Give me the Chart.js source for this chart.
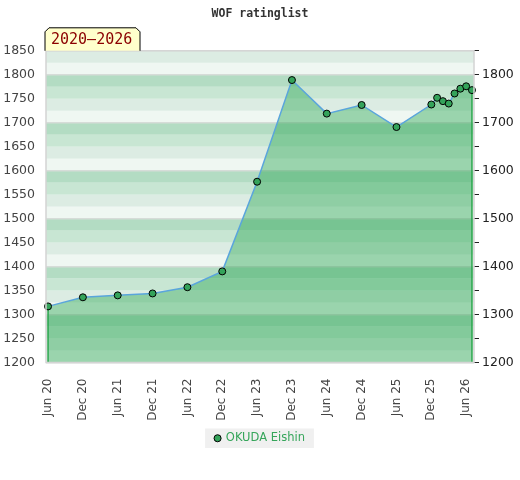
<!DOCTYPE html>
<html>
<head>
<meta charset="utf-8">
<script src="https://cdn.jsdelivr.net/npm/chart.js@4"></script>
<style>
body { margin: 0; background: #fff; }
#wrap { width: 520px; height: 480px; }
</style>
</head>
<body>
<div id="wrap"><canvas id="ratingChart"></canvas></div>
<script>
var playerName = 'OKUDA Eishin';
var periodLabel = '2020–2026';

// months counted from Jun 2020
var months  = [0, 6, 12, 18, 24, 30, 36, 42, 48, 54, 60, 66, 67, 68, 69, 70, 71, 72, 73];
var ratings = [1317, 1336, 1340, 1344, 1357, 1390, 1577, 1789, 1719, 1737, 1691, 1738, 1752, 1745, 1740, 1761, 1771, 1776, 1768];

var tickMonths = [0, 6, 12, 18, 24, 30, 36, 42, 48, 54, 60, 66, 72];
var tickLabels = ['Jun 20', 'Dec 20', 'Jun 21', 'Dec 21', 'Jun 22', 'Dec 22', 'Jun 23',
                  'Dec 23', 'Jun 24', 'Dec 24', 'Jun 25', 'Dec 25', 'Jun 26'];

var yMin = 1200, yMax = 1850;

var points = months.map(function (m, i) { return { x: m, y: ratings[i] }; });
var last = points.length - 1;

var bandColors = ['#eff7f2', '#dcece3', '#c8e6d3', '#b3dcc3'];

var decorations = {
    id: 'decorations',
    beforeDraw: function (chart) {
        var ctx = chart.ctx, area = chart.chartArea, y = chart.scales.y;
        ctx.save();
        for (var v = yMin; v < yMax; v += 25) {
            var top = y.getPixelForValue(v + 25), bottom = y.getPixelForValue(v);
            ctx.fillStyle = bandColors[((v - yMin) / 25) % 4];
            ctx.fillRect(area.left, top, area.right - area.left, bottom - top);
        }
        var hb = chart.legend.legendHitBoxes[0];
        if (hb) {
            ctx.fillStyle = '#f0f0f0';
            ctx.fillRect(hb.left - 10, hb.top - 4, hb.width + 19, hb.height + 8);
        }
        ctx.restore();
    },
    afterDatasetsDraw: function (chart) {
        var ctx = chart.ctx, a = chart.chartArea;
        ctx.save();
        ctx.strokeStyle = '#d4d4d4';
        ctx.lineWidth = 1.5;
        ctx.strokeRect(a.left, a.top, a.right - a.left, a.bottom - a.top);
        ctx.restore();
    },
    afterDraw: function (chart) {
        var ctx = chart.ctx, a = chart.chartArea;
        var l = a.left - 1, r = a.left + 94, t = a.top - 23, b = a.top, c = 4;
        ctx.save();
        ctx.beginPath();
        ctx.moveTo(l, b);
        ctx.lineTo(l, t + c);
        ctx.lineTo(l + c, t);
        ctx.lineTo(r - c, t);
        ctx.lineTo(r, t + c);
        ctx.lineTo(r, b);
        ctx.fillStyle = '#ffffcc';
        ctx.fill();
        ctx.strokeStyle = '#000';
        ctx.lineWidth = 1;
        ctx.stroke();
        ctx.fillStyle = '#8b0000';
        ctx.font = '15px "DejaVu Sans Mono"';
        ctx.textBaseline = 'middle';
        ctx.fillText(periodLabel, l + 6, t + 12);
        ctx.restore();
    }
};

var ctx = document.getElementById('ratingChart').getContext('2d');
var myChart = new Chart(ctx, {
    type: 'line',
    data: {
        datasets: [{
            label: playerName,
            data: points,
            borderColor: '#5aa5dc',
            borderWidth: 1.5,
            backgroundColor: 'rgba(34,162,76,0.41)',
            fill: 'start',
            tension: 0,
            pointRadius: 3.5,
            pointBackgroundColor: '#34a35a',
            pointBorderColor: '#000',
            pointBorderWidth: 1,
            clip: false
        }, {
            label: 'left edge',
            data: [{ x: months[0], y: yMin }, { x: months[0], y: ratings[0] }],
            borderColor: '#2ea84f',
            borderWidth: 1.5,
            pointRadius: 0,
            fill: false
        }, {
            label: 'right edge',
            data: [{ x: months[last], y: yMin }, { x: months[last], y: ratings[last] }],
            borderColor: '#2ea84f',
            borderWidth: 1.5,
            pointRadius: 0,
            fill: false
        }]
    },
    options: {
        responsive: true,
        maintainAspectRatio: false,
        animation: false,
        layout: { padding: { top: 0, bottom: 26, left: 0, right: 0 } },
        plugins: {
            title: {
                display: true,
                text: 'WOF ratinglist',
                color: '#333',
                font: { family: 'DejaVu Sans Mono', size: 11.5, weight: 'bold' },
                padding: { top: 7, bottom: 30 }
            },
            legend: {
                position: 'bottom',
                labels: {
                    filter: function (item) { return item.datasetIndex === 0; },
                    generateLabels: function (chart) {
                        var items = Chart.defaults.plugins.legend.labels.generateLabels(chart);
                        items.forEach(function (it) {
                            it.strokeStyle = '#000';
                            it.fillStyle = '#34a35a';
                            it.lineWidth = 1;
                        });
                        return items;
                    },
                    usePointStyle: true,
                    pointStyle: 'circle',
                    boxWidth: 5,
                    boxHeight: 5,
                    color: '#35a55a',
                    font: { family: 'DejaVu Sans', size: 11.5 },
                    padding: 10
                }
            },
            tooltip: { enabled: false }
        },
        scales: {
            x: {
                type: 'linear',
                min: -0.35,
                max: 73.35,
                afterBuildTicks: function (axis) {
                    axis.ticks = tickMonths.map(function (m) { return { value: m }; });
                },
                afterFit: function (axis) { axis.height = 60; },
                grid: { display: false },
                border: { display: false },
                ticks: {
                    autoSkip: false,
                    maxRotation: 90,
                    minRotation: 90,
                    padding: 8,
                    color: '#444',
                    font: { family: 'DejaVu Sans', size: 12 },
                    callback: function (value) {
                        var i = tickMonths.indexOf(value);
                        return i >= 0 ? tickLabels[i] : '';
                    }
                }
            },
            y: {
                position: 'left',
                min: yMin,
                max: yMax,
                afterFit: function (axis) { axis.width = 46; },
                border: { display: false },
                grid: {
                    drawTicks: false,
                    lineWidth: 1.5,
                    color: function (c) {
                        return c.tick && c.tick.value % 100 === 0 ? '#d6dcd8' : 'rgba(0,0,0,0)';
                    }
                },
                ticks: {
                    stepSize: 50,
                    padding: 11,
                    color: '#444',
                    font: { family: 'DejaVu Sans', size: 12.5 },
                    callback: function (value) { return String(value); }
                }
            },
            y2: {
                position: 'right',
                min: yMin,
                max: yMax,
                afterFit: function (axis) { axis.width = 46; },
                border: { display: false },
                grid: {
                    drawOnChartArea: false,
                    drawTicks: true,
                    tickLength: 5,
                    tickColor: '#222',
                    tickWidth: 1
                },
                ticks: {
                    stepSize: 50,
                    padding: 3,
                    color: '#222',
                    font: { family: 'DejaVu Sans', size: 12.5 },
                    callback: function (value) { return value % 100 === 0 ? String(value) : ''; }
                }
            }
        }
    },
    plugins: [decorations]
});
</script>
</body>
</html>
